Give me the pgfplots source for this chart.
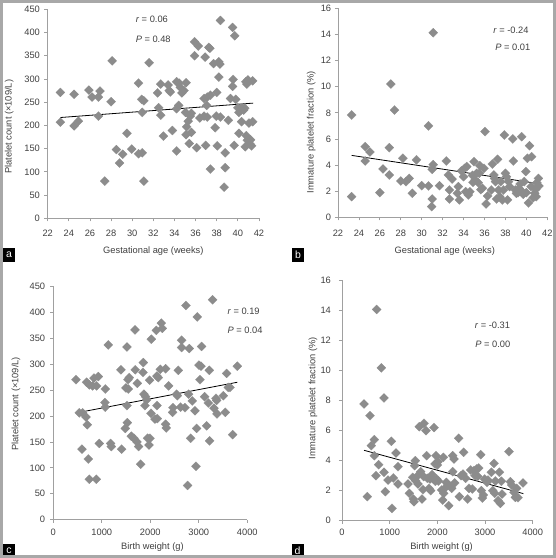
\documentclass[border=0pt]{standalone}
\usepackage{fontspec}
\setmainfont{Liberation Sans}
\usepackage{pgfplots}
\pgfplotsset{compat=1.18}
\definecolor{mk}{HTML}{8C8C8C}
\definecolor{axc}{HTML}{A0A0A0}
\definecolor{tk}{HTML}{404040}
\definecolor{bd}{HTML}{A8A8A8}
\newcommand{\fs}{\fontsize{9.3}{11}\selectfont}
\pgfplotsset{panel/.style={
  scale only axis, anchor=south west, clip=false,
  axis x line*=bottom, axis y line*=left,
  axis line style={draw=axc, line width=0.8pt},
  tick style={draw=axc, line width=0.8pt}, tick align=outside, major tick length=3.2pt,
  ticklabel style={font=\fs, text=tk},
  label style={font=\fs, text=tk},
  /pgf/number format/assume math mode=true,
  /pgf/number format/1000 sep={},
  scaled ticks=false,
  minor tick num=0,
},
sc/.style={only marks, mark=square*, mark size=3.2pt, mark options={rotate=45, fill=mk, draw=mk, line width=0.2pt}},
rl/.style={black, line width=0.8pt, no marks}}
\begin{document}
\begin{tikzpicture}
\path[use as bounding box] (0pt,0pt) rectangle (556pt,558pt);
\fill[white] (0pt,0pt) rectangle (556pt,558pt);
% ---------------- a
\begin{axis}[panel, at={(47.7pt,339.7pt)}, width=211.3pt, height=209pt,
  xmin=22, xmax=42, ymin=0, ymax=450, xtick={22,24,...,42}, ytick={0,50,...,450},
  xticklabel style={yshift=-4.5pt}, yticklabel style={xshift=-1.1pt},
  xlabel={Gestational age (weeks)}, ylabel={Platelet count (×109/L)},
  xlabel style={at={(axis description cs:0.5,-0.155)}, anchor=center},
  ylabel style={at={(axis description cs:-0.182,0.438)}, anchor=center}]
\addplot[sc] table {
23.2 271
23.2 207
24.5 267
24.5 199
24.9 209
25.9 276
26.2 261
26.8 261
26.95 274
26.8 220
27.4 80
28.0 251
28.1 339
28.5 148
28.8 119
29.1 138
29.5 183
29.95 149
30.6 291
30.6 139
30.95 141
30.9 256
31.1 253
30.95 228
31.1 80
31.6 335
32.4 270
32.5 238
32.7 289
32.7 222
32.95 177
33.4 287
33.5 275
33.6 272
33.8 189
34.2 294
34.2 236
34.2 145
34.4 243
34.45 291
34.55 282
34.7 270
34.9 275
35.05 228
35.1 292
35.1 180
35.15 197
35.3 209
35.4 161
35.5 220
35.6 226
35.6 185
35.9 380
35.9 350
36.1 152
36.25 371
36.4 216
36.8 258
36.8 220
36.9 347
36.95 157
37.05 243
37.1 261
37.1 218
37.25 368
37.35 366
37.4 106
37.4 265
37.7 333
37.85 195
38.0 271
37.95 220
38.05 156
38.2 337
38.3 332
38.2 304
38.35 426
38.35 218
38.7 67
38.8 141
38.8 109
39.1 211
39.5 411
39.5 284
39.55 299
39.3 258
39.7 393
39.65 157
39.8 256
40.0 238
40.1 183
40.1 228
40.3 233
40.35 208
40.4 238
40.55 233
40.65 237
40.7 154
40.75 294
40.8 178
40.85 289
40.9 168
40.95 298
41.05 205
41.15 160
41.3 156
41.4 208
41.4 296
41.2 169
};
\addplot[rl] coordinates {(23.2,217) (41.45,248)};
\node[anchor=west, font=\fs, text=tk] at (axis cs:30,429) {\textit{r} = 0.06};
\node[anchor=west, font=\fs, text=tk] at (axis cs:30,386) {\textit{P} = 0.48};
\end{axis}
% ---------------- b
\begin{axis}[panel, at={(338pt,340.7pt)}, width=209.3pt, height=209pt,
  xmin=22, xmax=42, ymin=0, ymax=16, xtick={22,24,...,42}, ytick={0,2,...,16},
  xticklabel style={yshift=-5.5pt}, yticklabel style={xshift=-0.1pt},
  xlabel={Gestational age (weeks)}, ylabel={Immature platelet fraction (\%)},
  xlabel style={at={(axis description cs:0.51,-0.16)}, anchor=center},
  ylabel style={at={(axis description cs:-0.128,0.406)}, anchor=center}]
\addplot[sc] table {
23.3 7.83
23.3 1.58
24.6 5.41
24.6 4.31
25.05 5.0
26.0 1.89
26.3 3.7
26.9 5.33
26.9 3.24
27.05 10.2
27.4 8.21
28.0 2.78
28.2 4.52
28.5 2.73
28.8 2.98
29.1 1.84
29.5 4.4
30.0 2.42
30.65 7.0
30.65 2.4
31.0 3.67
31.1 4.03
31.0 1.4
30.95 0.82
31.1 14.13
31.7 2.42
32.35 4.31
32.55 3.24
32.65 2.09
32.65 1.4
32.9 2.93
33.4 1.84
33.5 2.35
33.6 1.33
33.8 3.55
34.0 3.11
34.1 3.75
34.2 1.96
34.3 3.88
34.45 1.71
34.6 1.96
34.85 3.21
35.0 4.26
34.9 2.68
35.1 2.86
35.25 3.37
35.4 2.65
35.5 3.37
35.55 3.95
35.65 2.12
35.8 2.22
35.95 3.75
36.05 6.56
36.15 1.02
36.3 1.63
36.65 2.09
36.75 4.08
36.9 3.24
36.95 2.98
37.05 2.73
37.15 1.4
37.25 4.44
37.35 2.09
37.45 1.58
37.55 2.73
37.7 1.33
37.8 2.09
37.9 6.3
38.0 3.37
38.1 3.11
38.2 1.33
38.3 2.73
38.4 2.35
38.7 6.0
38.75 4.31
38.95 2.09
39.05 1.84
39.2 1.89
39.3 2.22
39.4 2.55
39.55 6.17
39.6 1.96
39.7 1.76
39.8 2.73
39.95 3.5
40.0 1.89
40.1 4.52
40.2 1.1
40.3 5.48
40.45 2.35
40.5 4.64
40.65 1.5
40.8 1.84
40.9 2.14
41.0 2.65
41.15 2.98
41.2 2.4
40.95 1.58
};
\addplot[rl] coordinates {(23.3,4.74) (41.4,2.55)};
\node[anchor=west, font=\fs, text=tk] at (axis cs:36.5,14.3) {\textit{r} = -0.24};
\node[anchor=west, font=\fs, text=tk] at (axis cs:36.7,13.0) {\textit{P} = 0.01};
\end{axis}
% ---------------- c
\begin{axis}[panel, at={(53.3pt,38.3pt)}, width=194pt, height=233.4pt,
  xmin=0, xmax=4000, ymin=0, ymax=450, xtick={0,1000,...,4000}, ytick={0,50,...,450},
  xticklabel style={yshift=-2.7pt}, yticklabel style={xshift=-1.4pt},
  xlabel={Birth weight (g)}, ylabel={Platelet count (×109/L)},
  xlabel style={at={(axis description cs:0.511,-0.118)}, anchor=center},
  ylabel style={at={(axis description cs:-0.192,0.496)}, anchor=center}]
\addplot[sc] table {
467 270
536 206
605 206
591 136
674 198
687 265
701 183
722 117
742 260
742 78
811 258
838 273
887 78
893 258
928 276
948 147
1072 252
1065 226
1072 217
1134 337
1182 147
1196 141
1395 289
1409 136
1485 176
1498 254
1519 333
1519 220
1526 187
1540 270
1546 252
1567 274
1608 161
1663 157
1684 366
1690 289
1725 150
1732 263
1759 141
1801 107
1849 284
1856 303
1869 242
1890 220
1904 237
1924 231
1945 157
1973 144
1986 269
1993 157
2014 205
2021 348
2096 194
2124 365
2137 277
2137 220
2144 195
2165 274
2206 290
2227 379
2247 369
2316 291
2316 184
2330 177
2378 258
2460 207
2467 216
2543 242
2557 239
2577 288
2625 217
2646 346
2646 332
2715 216
2735 413
2769 66
2790 242
2804 330
2832 157
2866 229
2921 210
2942 103
2955 176
2969 391
3003 298
3024 270
3045 296
3058 334
3120 237
3162 181
3196 225
3217 288
3223 152
3285 424
3313 215
3354 234
3368 230
3375 204
3505 239
3546 207
3574 282
3608 255
3643 255
3698 164
3794 296
};
\addplot[rl] coordinates {(481,206) (3794,265)};
\node[anchor=west, font=\fs, text=tk] at (axis cs:3520,401) {\textit{r} = 0.19};
\node[anchor=west, font=\fs, text=tk] at (axis cs:3520,366) {\textit{P} = 0.04};
\end{axis}
% ---------------- d
\begin{axis}[panel, at={(342pt,37.3pt)}, width=190.7pt, height=240.7pt,
  xmin=0, xmax=4000, ymin=0, ymax=16, xtick={0,1000,...,4000}, ytick={0,2,...,16},
  xticklabel style={yshift=-1.7pt}, yticklabel style={xshift=-4.4pt},
  xlabel={Birth weight (g)}, ylabel={Immature platelet fraction (\%)},
  xlabel style={at={(axis description cs:0.522,-0.11)}, anchor=center},
  ylabel style={at={(axis description cs:-0.152,0.508)}, anchor=center}]
\addplot[sc] table {
462 7.76
531 1.6
587 6.98
615 4.99
678 5.39
678 4.32
713 2.99
727 14.04
769 3.72
825 10.16
881 8.16
881 3.22
909 1.93
965 2.7
1035 5.28
1049 0.82
1077 2.84
1133 4.5
1175 3.59
1175 2.44
1385 2.44
1413 1.82
1483 2.88
1497 1.44
1510 1.26
1524 3.66
1538 3.99
1545 2.66
1566 2.93
1594 2.44
1622 6.25
1650 3.26
1678 1.44
1699 2.06
1713 2.93
1720 6.47
1762 5.99
1776 4.32
1790 2.82
1825 2.15
1846 2.77
1860 2.0
1888 3.06
1916 2.77
1930 6.19
1951 3.77
1958 2.62
1972 4.32
1986 2.77
2000 3.7
2014 3.92
2021 2.64
2091 2.04
2112 1.37
2126 4.21
2133 1.82
2154 2.15
2189 2.55
2224 2.39
2238 1.0
2273 2.28
2301 2.15
2322 4.32
2322 3.26
2350 4.1
2364 2.51
2448 5.48
2462 1.6
2497 2.99
2538 3.1
2552 4.55
2594 2.82
2636 1.44
2664 2.15
2699 3.37
2734 2.11
2769 3.33
2790 2.99
2825 3.44
2846 2.95
2867 3.5
2909 4.39
2923 2.0
2944 1.51
2965 1.71
2993 2.77
3042 2.55
3063 2.7
3133 3.22
3161 2.0
3189 3.81
3203 1.82
3217 2.64
3273 1.33
3301 3.22
3322 1.15
3343 2.62
3357 1.77
3503 4.59
3531 2.59
3559 2.37
3608 1.88
3636 1.55
3664 2.15
3692 1.53
3797 2.51
};
\addplot[rl] coordinates {(462,4.68) (3804,1.80)};
\node[anchor=west, font=\fs, text=tk] at (axis cs:2712,13.0) {\textit{r} = -0.31};
\node[anchor=west, font=\fs, text=tk] at (axis cs:2725,11.75) {\textit{P} = 0.00};
\end{axis}
% labels and border
\tikzset{lb/.style={fill=black, text=white, minimum width=12pt, minimum height=13.5pt, inner sep=0pt, font=\fontsize{10.5}{12}\selectfont}}
\node[lb] at (9pt,303pt) {a};
\node[lb] at (298pt,303pt) {b};
\node[lb] at (9pt,7.5pt) {c};
\node[lb] at (297.5pt,7.5pt) {d};
\draw[bd, line width=3pt] (1.5pt,1.5pt) rectangle (554.5pt,556.5pt);
\end{tikzpicture}
\end{document}
